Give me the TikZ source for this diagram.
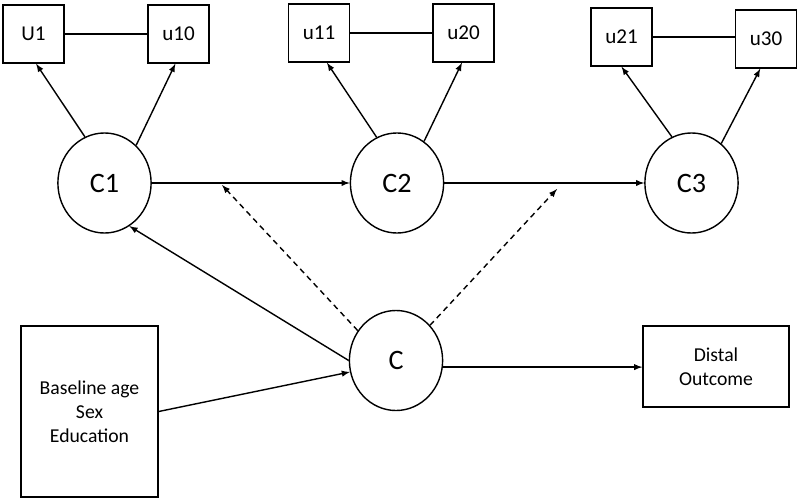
\documentclass[tikz,border=0pt]{standalone}
\usepackage{fontspec}
\setmainfont{Carlito}
\usetikzlibrary{shapes.geometric}

\begin{document}
\begin{tikzpicture}[x=0.025cm,y=-0.025cm,
  item/.style={shape=rectangle, draw, line width=1pt, minimum width=1.525cm, minimum height=1.45cm, inner sep=2pt, font=\fontsize{15}{17}\selectfont},
  latent/.style={shape=ellipse, draw, line width=1pt, minimum width=2.33cm, minimum height=2.5cm, inner sep=0pt, font=\fontsize{20}{22}\selectfont},
  obs/.style={shape=rectangle, draw, line width=1pt, align=center, inner sep=2pt, font=\fontsize{14}{17}\selectfont},
  path/.style={-latex, line width=1pt},
  mod/.style={-latex, line width=1pt, dash pattern=on 4pt off 3pt}]
\useasboundingbox (0,0) rectangle (800,500);
%%% indicators
\node[item] (U1)  at (33.5,34) {U1};
\node[item] (u10) at (178.5,34) {u10};
\node[item] (u11) at (319,33) {u11};
\node[item] (u20) at (463.5,33) {u20};
\node[item] (u21) at (621.5,37) {u21};
\node[item] (u30) at (766,39) {u30};
%%% latent classes
\node[latent] (C1) at (104.5,183) {C1};
\node[latent] (C2) at (397,183) {C2};
\node[latent] (C3) at (691.5,183) {C3};
\node[latent] (C)  at (396,360.5) {C};
%%% observed
\node[obs, minimum width=3.425cm, minimum height=4.275cm] (Base) at (89.5,411.5) {Baseline age\\Sex\\Education};
\node[obs, minimum width=3.65cm, minimum height=2.025cm] (Dist) at (716,366.5) {Distal\\Outcome};
\coordinate (m1) at (222,185);
\coordinate (m2) at (557,189);

\draw[line width=1pt](U1)--(u10);
\draw[line width=1pt](u11)--(u20);
\draw[line width=1pt](u21.east)--(u21.east -| u30.west);

\draw[path](C1.113)--(U1.-85);
\draw[path](C1.50)--(u10.-96);
\draw[path](C2.114)--(u11.-75);
\draw[path](C2.57)--(u20.-93);
\draw[path](C3.113)--(u21.south);
\draw[path](C3.53)--(u30.-101);

\draw[path](C1)--(C2);
\draw[path](C2)--(C3);
\draw[path](C.west)--(C1.-60);
\draw[path](Base.east)--(C.-166);
\draw[path](C.-8)--(Dist.west |- C.-8);

\draw[mod](C.142)--(m1);
\draw[mod](C.46)--(m2);

\end{tikzpicture}
\end{document}
